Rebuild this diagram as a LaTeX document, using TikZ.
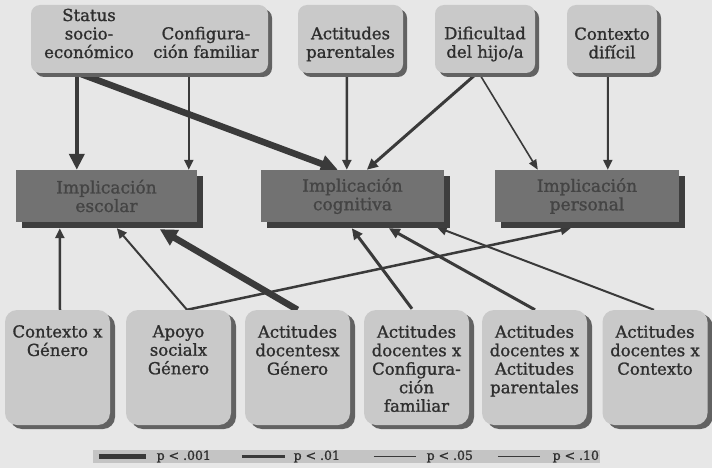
\documentclass[tikz,border=0pt]{standalone}
\usepackage{fontspec}
\setmainfont{DejaVu Serif}[FakeBold=1.2]
\usetikzlibrary{arrows.meta,calc,shadows}
\definecolor{bgcol}{HTML}{E7E7E7}
\definecolor{topfill}{HTML}{C9C9C9}
\definecolor{topshadow}{HTML}{626262}
\definecolor{midfill}{HTML}{727272}
\definecolor{midshadow}{HTML}{3E3E3E}
\definecolor{midtext}{HTML}{444444}
\definecolor{linecol}{HTML}{3A3A3A}
\definecolor{textcol}{HTML}{2E2E2E}
\definecolor{legfill}{HTML}{C4C4C4}
\pgfdeclarelayer{back}
\pgfdeclarelayer{arrowlayer}
\pgfsetlayers{back,arrowlayer,main}
\newcommand{\mainfs}{\fontsize{16.5}{18.5}\selectfont}
\newcommand{\midfs}{\fontsize{17}{18.5}\selectfont}
\newcommand{\legfs}{\fontsize{12.5}{13}\selectfont}
\begin{document}
\begin{tikzpicture}[x=1pt,y=-1pt,
  tb/.style={rectangle, rounded corners=9pt, fill=topfill, inner sep=0pt, minimum height=68pt,
    drop shadow={shadow xshift=4pt,shadow yshift=-4pt,fill=topshadow,opacity=1}},
  mb/.style={rectangle, fill=midfill, inner sep=0pt, minimum height=52pt, text=midtext,
    font=\midfs, align=center,
    drop shadow={shadow xshift=6pt,shadow yshift=-6pt,fill=midshadow,opacity=1}},
  bb/.style={rectangle, rounded corners=12pt, fill=topfill, inner sep=0pt,
    minimum width=105pt, minimum height=115pt,
    drop shadow={shadow xshift=5pt,shadow yshift=-4pt,fill=topshadow,opacity=1}},
  txt/.style={inner sep=0pt, align=center, font=\mainfs, text=textcol},
  legtxt/.style={inner sep=0pt, font=\legfs, text=textcol},
  con/.style={draw=linecol, line width=2pt, -{Triangle[length=10pt,width=9pt]}},
  med/.style={line width=3pt, -{Triangle[length=11pt,width=10pt]}},
  thin/.style={line width=1.6pt, -{Triangle[length=10pt,width=8pt]}},
  strong/.style={line width=4.5pt, -{Triangle[length=16pt,width=15pt]}},
  heavy/.style={line width=6.5pt, -{Triangle[length=17pt,width=17pt]}},
]
\begin{pgfonlayer}{back}
\fill[bgcol] (0,0) rectangle (712,468);
\end{pgfonlayer}
\useasboundingbox (0,0) rectangle (712,468);

% top boxes
\node[tb, minimum width=237pt] (fam) at (149.5,39) {};
\node[tb, minimum width=105pt] (par) at (350.5,39) {};
\node[tb, minimum width=100pt] (dif) at (485,39) {};
\node[tb, minimum width=90pt] (ctx) at (612,39) {};
\node[txt] (tstat) at (89,33.5) {Status\\socio-\\económico};
\node[txt] (tconf) at (206,42.5) {Configura-\\ción familiar};
\node[txt] (tpar) at (350.5,44) {Actitudes\\parentales};
\node[txt] (tdif) at (485,44) {Dificultad\\del hijo/a};
\node[txt] (tctx) at (612,43) {Contexto\\difícil};

% middle boxes
\node[mb, minimum width=181pt] (esc) at (106.5,196) {Implicación\\escolar};
\node[mb, minimum width=183pt] (cog) at (352.5,196) {Implicación\\cognitiva};
\node[mb, minimum width=184pt] (pers) at (587,196) {Implicación\\personal};

% bottom boxes
\node[bb] (b1) at (57.5,367.5) {};
\node[bb] (b2) at (178.5,367.5) {};
\node[bb] (b3) at (297.5,367.5) {};
\node[bb] (b4) at (416.5,367.5) {};
\node[bb] (b5) at (534.5,367.5) {};
\node[bb] (b6) at (655,367.5) {};
\node[txt, anchor=north] (t1) at (57.5,325) {Contexto x\\Género};
\node[txt, anchor=north] (t2) at (178.5,325) {Apoyo\\socialx\\Género};
\node[txt, anchor=north] (t3) at (297.5,325) {Actitudes\\docentesx\\Género};
\node[txt, anchor=north] (t4) at (416.5,325) {Actitudes\\docentes x\\Configura-\\ción\\familiar};
\node[txt, anchor=north] (t5) at (534.5,325) {Actitudes\\docentes x\\Actitudes\\parentales};
\node[txt, anchor=north] (t6) at (655,325) {Actitudes\\docentes x\\Contexto};

% connectors
\begin{pgfonlayer}{arrowlayer}
\draw[con, strong] ($(fam.south west)+(46,0)$) -- ($(esc.north west)+(61,0)$);
\draw[con] ($(fam.south west)+(158,0)$) -- ($(esc.north west)+(173,0)$);
\draw[con, heavy] ($(fam.south west)+(48,0)$) -- ($(cog.north west)+(77,0)$);
\draw[con, line width=2.5pt] ($(par.south)+(-3.5,0)$) -- ($(cog.north west)+(86,0)$);
\draw[con, med] ($(dif.south)+(-8,0)$) -- ($(cog.north west)+(106,0)$);
\draw[con, thin] ($(dif.south)+(-6,0)$) -- ($(pers.north west)+(43,0)$);
\draw[con] ($(ctx.south)+(-4,0)$) -- ($(pers.north west)+(113,0)$);

\draw[con, line width=2.5pt] ($(b1.north)+(2.5,0)$) -- ($(esc.south west)+(44,6)$);
\draw[con] ($(b2.north)+(8.5,0)$) -- ($(esc.south west)+(101,6)$);
\draw[con, line width=2.5pt] ($(b2.north)+(8.5,0)$) -- ($(pers.south west)+(76,6)$);
\draw[con, heavy] ($(b3.north)+(0,0)$) -- ($(esc.south west)+(144,7)$);
\draw[con, med] ($(b4.north)+(-4.5,-1)$) -- ($(cog.south west)+(91,6)$);
\draw[con, med] ($(b5.north)+(0.5,0)$) -- ($(cog.south west)+(128,6)$);
\draw[con] ($(b6.north)+(-1,0)$) -- ($(cog.south west)+(176,5)$);
\end{pgfonlayer}

% legend
\node[fill=legfill, minimum width=507pt, minimum height=13pt, inner sep=0pt] (leg) at (346.5,456.5) {};
\draw[linecol, line width=5pt] ($(leg.west)+(6,0)$) -- ($(leg.west)+(53,0)$);
\node[legtxt] (l1) at ($(leg.west)+(91,0)$) {p < .001};
\draw[linecol, line width=2.6pt] ($(leg.west)+(149,0)$) -- ($(leg.west)+(192,0)$);
\node[legtxt] (l2) at ($(leg.west)+(224,0)$) {p < .01};
\draw[linecol, line width=1.8pt] ($(leg.west)+(281,0)$) -- ($(leg.west)+(323,0)$);
\node[legtxt] (l3) at ($(leg.west)+(357,0)$) {p < .05};
\draw[linecol, line width=1.2pt] ($(leg.west)+(405,0)$) -- ($(leg.west)+(447,0)$);
\node[legtxt] (l4) at ($(leg.west)+(483,0)$) {p < .10};
\end{tikzpicture}
\end{document}
